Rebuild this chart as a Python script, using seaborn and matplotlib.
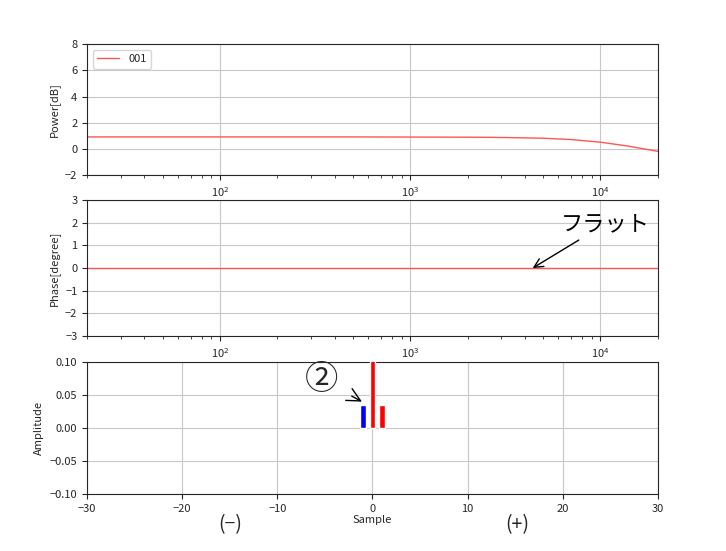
import numpy as np
import matplotlib
matplotlib.use("Agg")
import matplotlib.pyplot as plt
import seaborn as sns

sns.set_style("ticks")
plt.rcParams['font.family'] = ['Noto Sans CJK JP', 'DejaVu Sans']

# frequency response data
freq = [20, 100, 500, 1000, 2000, 3000, 5000, 7000, 10000, 14000, 20000]
power_db = [0.92, 0.92, 0.92, 0.91, 0.90, 0.88, 0.82, 0.72, 0.52, 0.22, -0.18]
phase_deg = [0, 0, 0, 0, 0, 0, 0, 0, 0, 0, 0]

# impulse response samples
sample_idx = [-1, 0, 1]
amplitude = [0.035, 0.11, 0.035]
bar_colors = ["blue", "red", "red"]

fig = plt.figure(figsize=(7.26, 5.51), dpi=100)
ax1 = fig.add_axes([0.12, 0.682, 0.786, 0.238])
ax2 = fig.add_axes([0.12, 0.39, 0.786, 0.247])
ax3 = fig.add_axes([0.12, 0.103, 0.786, 0.24])

sns.lineplot(x=freq, y=power_db, ax=ax1, color="#ff5555", lw=1, label="001")
ax1.set_xscale("log")
ax1.set_xlim(20, 20000)
ax1.set_ylim(-2, 8)
ax1.set_ylabel("Power[dB]", fontsize=8)
ax1.legend(loc="upper left", fontsize=8)

sns.lineplot(x=freq, y=phase_deg, ax=ax2, color="#ff5555", lw=1)
ax2.set_xscale("log")
ax2.set_xlim(20, 20000)
ax2.set_ylim(-3, 3)
ax2.set_ylabel("Phase[degree]", fontsize=8)
ax2.annotate("フラット", xy=(4400, 0), xytext=(6200, 1.95), fontsize=16,
             ha="left", va="center", color="black",
             arrowprops=dict(arrowstyle="->", color="black", lw=1,
                             shrinkA=2, shrinkB=0))

for x, a, c in zip(sample_idx, amplitude, bar_colors):
    ax3.bar(x, a, width=0.6, color=c, zorder=3)
ax3.set_xlim(-30, 30)
ax3.set_ylim(-0.1, 0.1)
ax3.set_ylabel("Amplitude", fontsize=8)
ax3.set_xlabel("Sample", fontsize=8, labelpad=1)
ax3.annotate("②", xy=(-1.1, 0.04), xytext=(-5.3, 0.073), fontsize=24,
             ha="center", va="center",
             arrowprops=dict(arrowstyle="->", color="black", lw=1,
                             shrinkA=8, shrinkB=0))

for ax in (ax1, ax2, ax3):
    ax.grid(True, which="major", color="#c8c8c8", lw=0.8)
    ax.tick_params(labelsize=8, direction="out", length=3.5, width=0.8,
                   bottom=True, left=True)
    ax.tick_params(which="minor", direction="out", length=2, width=0.6,
                   bottom=True)
    for s in ax.spines.values():
        s.set_visible(True)

fig.text(0.317, 0.047, "(−)", fontsize=14, ha="center", va="center")
fig.text(0.712, 0.047, "(+)", fontsize=14, ha="center", va="center")

fig.savefig("out.png", dpi=100)
